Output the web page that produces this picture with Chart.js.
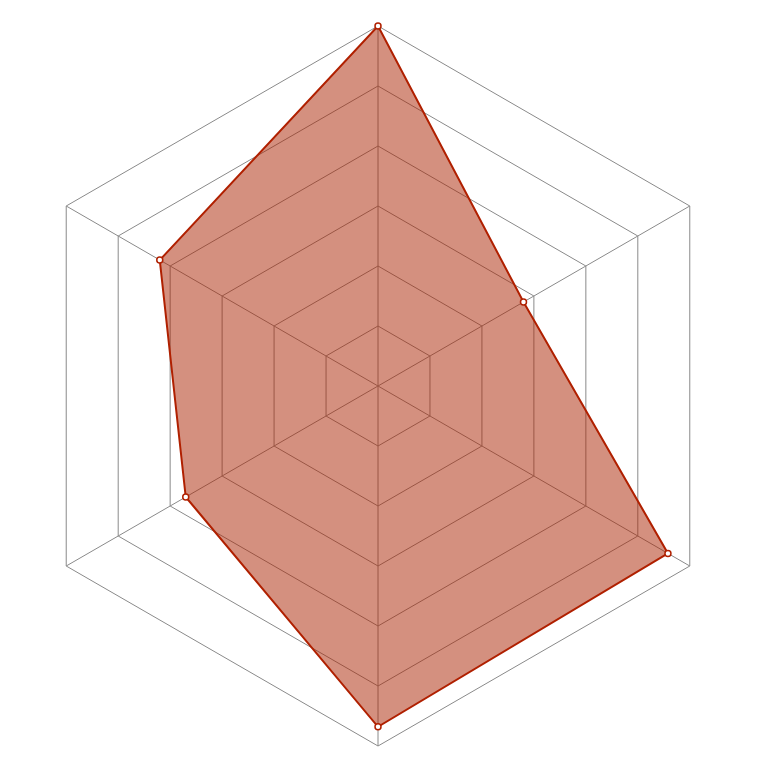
<!DOCTYPE html>
<html>
<head>
<meta charset="utf-8">
<script src="https://cdn.jsdelivr.net/npm/chart.js@4"></script>
<style>
    html, body { margin: 0; padding: 0; background: #ffffff; }
    #wrap { width: 774px; height: 774px; }
</style>
</head>
<body>
<div id="wrap"><canvas id="radar"></canvas></div>
<script>
// axes (no labels drawn in the reference)
const categories = ["A", "B", "C", "D", "E", "F"];
const seriesValues = [6, 2.8, 5.58, 5.68, 3.7, 4.2];
const scaleMin = 0;
const scaleMax = 6;
const scaleStep = 1;

const ctx = document.getElementById("radar").getContext("2d");

new Chart(ctx, {
    type: "radar",
    data: {
        labels: categories,
        datasets: [{
            data: seriesValues,
            backgroundColor: "rgba(170, 34, 0, 0.5)",
            borderColor: "#b02000",
            borderWidth: 2,
            pointRadius: 3,
            pointBorderWidth: 1.5,
            pointBackgroundColor: "#ffffff",
            pointBorderColor: "#b02000"
        }]
    },
    options: {
        responsive: true,
        maintainAspectRatio: false,
        animation: false,
        layout: { padding: { left: 18, right: 36, top: 26, bottom: 28 } },
        plugins: {
            legend: { display: false },
            tooltip: { enabled: false }
        },
        scales: {
            r: {
                min: scaleMin,
                max: scaleMax,
                ticks: { display: false, stepSize: scaleStep },
                pointLabels: { display: false },
                grid: { color: "#8a8a8a", lineWidth: 1 },
                angleLines: { color: "#8a8a8a", lineWidth: 1 }
            }
        }
    }
});
</script>
</body>
</html>
